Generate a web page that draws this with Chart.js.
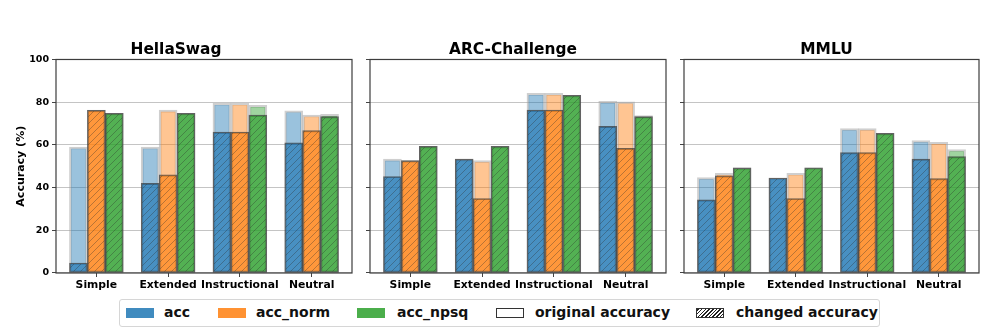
<!DOCTYPE html>
<html>
<head>
<meta charset="utf-8">
<script src="https://cdn.jsdelivr.net/npm/chart.js@4"></script>
<style>
body { margin: 0; background: #fff; width: 996px; height: 332px; position: relative; overflow: hidden; font-family: 'DejaVu Sans', sans-serif; }
.panel { position: absolute; top: 30px; }
#legend { position: absolute; left: 119px; top: 299px; width: 761px; height: 28px; border: 1px solid #d6d6d6; border-radius: 3px; box-sizing: border-box; }
.sw { position: absolute; top: 8px; width: 28px; height: 10px; box-sizing: border-box; }
.lt { position: absolute; top: 4px; font-weight: bold; font-size: 14px; line-height: 17px; color: #111; white-space: nowrap; }
</style>
</head>
<body>
<div id="legend">
  <div class="sw" style="left:6px;background:rgba(31,119,180,0.85)"></div><span class="lt" style="left:44px">acc</span>
  <div class="sw" style="left:98px;background:rgba(255,127,14,0.85)"></div><span class="lt" style="left:136px">acc_norm</span>
  <div class="sw" style="left:237px;background:rgba(44,160,44,0.85)"></div><span class="lt" style="left:277px">acc_npsq</span>
  <div class="sw" style="left:376px;background:#fff;border:1px solid #333"></div><span class="lt" style="left:415px">original accuracy</span>
  <div class="sw" style="left:576px;border:1px solid #333;background:repeating-linear-gradient(-45deg,#fff 0 1.6px,#222 1.6px 2.6px)"></div><span class="lt" style="left:616px">changed accuracy</span>
</div>
<script>
const categories = ['Simple', 'Extended', 'Instructional', 'Neutral'];
const seriesNames = ['acc', 'acc_norm', 'acc_npsq'];
const yTicks = [0, 20, 40, 60, 80, 100];

// HellaSwag
const hellaAccOrig = [59.0, 59.0, 79.5, 76.0];
const hellaAccChg = [4.7, 42.0, 66.0, 61.0];
const hellaNormOrig = [76.3, 76.3, 79.5, 74.0];
const hellaNormChg = [76.2, 46.0, 66.0, 66.7];
const hellaNpsqOrig = [74.8, 74.8, 78.5, 74.3];
const hellaNpsqChg = [74.8, 74.8, 74.0, 73.2];

// ARC-Challenge
const arcAccOrig = [53.3, 53.3, 84.1, 80.4];
const arcAccChg = [45.2, 53.3, 76.3, 68.7];
const arcNormOrig = [52.6, 52.6, 84.1, 80.2];
const arcNormChg = [52.6, 34.9, 76.3, 58.4];
const arcNpsqOrig = [59.3, 59.3, 83.2, 73.7];
const arcNpsqChg = [59.3, 59.3, 83.2, 73.2];

// MMLU
const mmluAccOrig = [44.7, 44.5, 67.6, 62.0];
const mmluAccChg = [34.3, 44.5, 56.4, 53.3];
const mmluNormOrig = [46.7, 46.7, 67.6, 61.2];
const mmluNormChg = [45.5, 34.9, 56.4, 44.2];
const mmluNpsqOrig = [49.2, 49.3, 65.4, 57.8];
const mmluNpsqChg = [49.2, 49.3, 65.4, 54.5];

const rgb = ['31,119,180', '255,127,14', '44,160,44'];
const offsets = [-0.25, 0, 0.25];

Chart.defaults.font.family = "'DejaVu Sans', sans-serif";
Chart.defaults.color = '#000';

function makeHatch(c) {
    const t = document.createElement('canvas');
    t.width = 7; t.height = 7;
    const g = t.getContext('2d');
    g.fillStyle = 'rgba(' + c + ',0.66)';
    g.fillRect(0, 0, 7, 7);
    g.strokeStyle = 'rgba(40,40,40,0.33)';
    g.lineWidth = 1;
    g.beginPath();
    g.moveTo(-1, 8); g.lineTo(8, -1);
    g.moveTo(-4, 4); g.lineTo(4, -4);
    g.moveTo(3, 11); g.lineTo(11, 3);
    g.stroke();
    return g.createPattern(t, 'repeat');
}
const hatches = rgb.map(makeHatch);

const framePlugin = {
    id: 'frame',
    afterDatasetsDraw(chart) {
        const a = chart.chartArea, ctx = chart.ctx;
        ctx.save();
        ctx.strokeStyle = '#3c3c3c';
        ctx.lineWidth = 1.2;
        ctx.strokeRect(a.left, a.top, a.right - a.left, a.bottom - a.top);
        ctx.restore();
    }
};

function buildDatasets(orig, chg) {
    const ds = [];
    seriesNames.forEach((name, s) => {
        ds.push({
            label: name + ' changed',
            data: categories.map((c, i) => ({ x: i + offsets[s], y: chg[s][i] })),
            backgroundColor: hatches[s],
            borderColor: 'rgba(40,40,40,0.65)',
            borderWidth: 1.3,
            borderSkipped: false,
            order: 0
        });
    });
    seriesNames.forEach((name, s) => {
        ds.push({
            label: name + ' original',
            data: categories.map((c, i) => ({ x: i + offsets[s], y: orig[s][i] })),
            backgroundColor: 'rgba(' + rgb[s] + ',0.45)',
            borderColor: 'rgba(160,160,160,0.5)',
            borderWidth: 2,
            borderSkipped: false,
            order: 1
        });
    });
    return ds;
}

function makePanel(title, left, width, yWidth, padRight, showY, orig, chg) {
    const div = document.createElement('div');
    div.className = 'panel';
    div.style.left = left + 'px';
    const canvas = document.createElement('canvas');
    canvas.width = width;
    canvas.height = 270;
    div.appendChild(canvas);
    document.body.appendChild(div);

    new Chart(canvas.getContext('2d'), {
        type: 'bar',
        data: { datasets: buildDatasets(orig, chg) },
        options: {
            responsive: false,
            animation: false,
            layout: { padding: { left: 0, right: padRight, top: 0, bottom: 0 } },
            plugins: {
                legend: { display: false },
                tooltip: { enabled: false },
                title: {
                    display: true,
                    text: title,
                    color: '#000',
                    font: { size: 15.4, weight: 'bold' },
                    padding: { top: 11, bottom: 0 }
                }
            },
            datasets: { bar: { grouped: false, barPercentage: 1, categoryPercentage: 1 } },
            scales: {
                x: {
                    type: 'linear',
                    offset: false,
                    min: -0.5625,
                    max: 3.5625,
                    afterBuildTicks: s => { s.ticks = categories.map((c, i) => ({ value: i })); },
                    afterFit: s => { s.height = 27; },
                    ticks: {
                        autoSkip: false,
                        maxRotation: 0,
                        padding: 2,
                        font: { size: 10.8, weight: 'bold' },
                        callback: v => categories[v]
                    },
                    grid: { offset: false, drawOnChartArea: false, drawTicks: true, tickLength: 4, tickColor: '#444' },
                    border: { display: false }
                },
                y: {
                    min: 0,
                    max: 100,
                    afterBuildTicks: s => { s.ticks = yTicks.map(v => ({ value: v })); },
                    afterFit: s => { s.width = yWidth; },
                    ticks: {
                        display: showY,
                        padding: 3,
                        font: { size: 9.5, weight: 'bold' }
                    },
                    grid: { color: '#c4c4c4', lineWidth: 1, tickLength: 4, tickColor: '#444' },
                    border: { display: false },
                    title: {
                        display: showY,
                        text: 'Accuracy (%)',
                        font: { size: 11, weight: 'bold' },
                        padding: { top: 15, bottom: 0 }
                    }
                }
            }
        },
        plugins: [framePlugin]
    });
}

makePanel('HellaSwag', 0, 360, 56, 8, true,
    [hellaAccOrig, hellaNormOrig, hellaNpsqOrig], [hellaAccChg, hellaNormChg, hellaNpsqChg]);
makePanel('ARC-Challenge', 360, 314, 10, 8, false,
    [arcAccOrig, arcNormOrig, arcNpsqOrig], [arcAccChg, arcNormChg, arcNpsqChg]);
makePanel('MMLU', 674, 322, 10, 17, false,
    [mmluAccOrig, mmluNormOrig, mmluNpsqOrig], [mmluAccChg, mmluNormChg, mmluNpsqChg]);
</script>
</body>
</html>
